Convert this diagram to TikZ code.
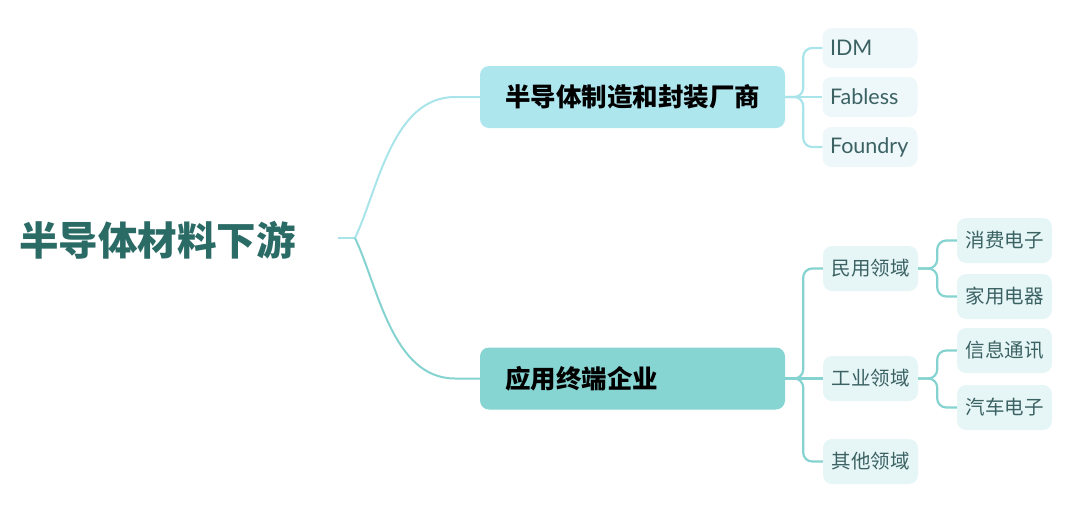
\documentclass[tikz,border=0pt]{standalone}
\usepackage{fontspec}
\newfontfamily\cjk{Noto Sans CJK SC}
\newfontfamily\latin{Lato}
\definecolor{roottxt}{HTML}{2B6B66}
\definecolor{topfill}{HTML}{AEE6EE}
\definecolor{botfill}{HTML}{86D5D3}
\definecolor{topline}{HTML}{A8E4EA}
\definecolor{botline}{HTML}{85D3D0}
\definecolor{leaffillA}{HTML}{EEF8FA}
\definecolor{leaffillB}{HTML}{E6F6F6}
\definecolor{leaftxt}{HTML}{3B6163}
\tikzset{
  branch/.style={rounded corners=9pt, minimum width=305pt, minimum height=62pt, inner sep=0pt,
    font=\cjk\bfseries\fontsize{25.5}{28}\selectfont, text=black},
  leaf/.style={rounded corners=9pt, minimum width=95pt, minimum height=45pt, inner sep=0pt,
    font=\cjk\fontsize{19.5}{22}\selectfont, text=leaftxt, fill=leaffillB},
  eleaf/.style={leaf, minimum height=40pt, fill=leaffillA, text width=80pt, align=left,
    font=\latin\fontsize{21.5}{24}\selectfont},
  conn/.style={line width=2.2pt, rounded corners=9pt},
  curve/.style={line width=2pt},
}
\begin{document}
\begin{tikzpicture}[x=1pt,y=-1pt]
\useasboundingbox (0,0) rectangle (1080,504);
\node[font=\cjk\bfseries\fontsize{39.5}{42}\selectfont, text=roottxt, inner sep=0pt] (root) at (157.5,240) {半导体材料下游};
\coordinate (hub) at (355,238);
\node[branch, fill=topfill] (top) at (632.5,97) {半导体制造和封装厂商};
\node[branch, fill=botfill, text width=255pt, align=left] (bot) at (632.5,378.5) {应用终端企业};

\node[eleaf] (idm) at (870,48) {IDM};
\node[eleaf] (fab) at (870,97) {Fabless};
\node[eleaf] (fdy) at (870,147) {Foundry};

\node[leaf] (min) at (870.5,268.5) {民用领域};
\node[leaf] (gong) at (870.5,378.5) {工业领域};
\node[leaf] (qita) at (870.5,461.5) {其他领域};

\node[leaf] (xf) at (1004.5,240.5) {消费电子};
\node[leaf] (jy) at (1004.5,296.5) {家用电器};
\node[leaf] (xx) at (1004.5,350.5) {信息通讯};
\node[leaf] (qc) at (1004.5,407.5) {汽车电子};

\draw[curve, topline] (338,238) -- (hub);
\draw[curve, topline] (hub) .. controls (378,190) and (392,97) .. (455,97) -- (top.west);
\draw[curve, botline] (hub) .. controls (378,286) and (392,378.5) .. (455,378.5) -- (bot.west);

\draw[conn, topline] (top.east) -- ++(18,0) |- (idm.west);
\draw[conn, topline] (top.east) -- ++(18,0) |- (fdy.west);
\draw[conn, topline] (top.east) -- (fab.west);

\draw[conn, botline] (bot.east) -- ++(18,0) |- (min.west);
\draw[conn, botline] (bot.east) -- ++(18,0) |- (qita.west);
\draw[conn, botline] (bot.east) -- (gong.west);

\draw[conn, botline] (min.east) -- ++(19,0) |- (xf.west);
\draw[conn, botline] (min.east) -- ++(19,0) |- (jy.west);
\draw[conn, botline] (gong.east) -- ++(19,0) |- (xx.west);
\draw[conn, botline] (gong.east) -- ++(19,0) |- (qc.west);
\end{tikzpicture}
\end{document}
